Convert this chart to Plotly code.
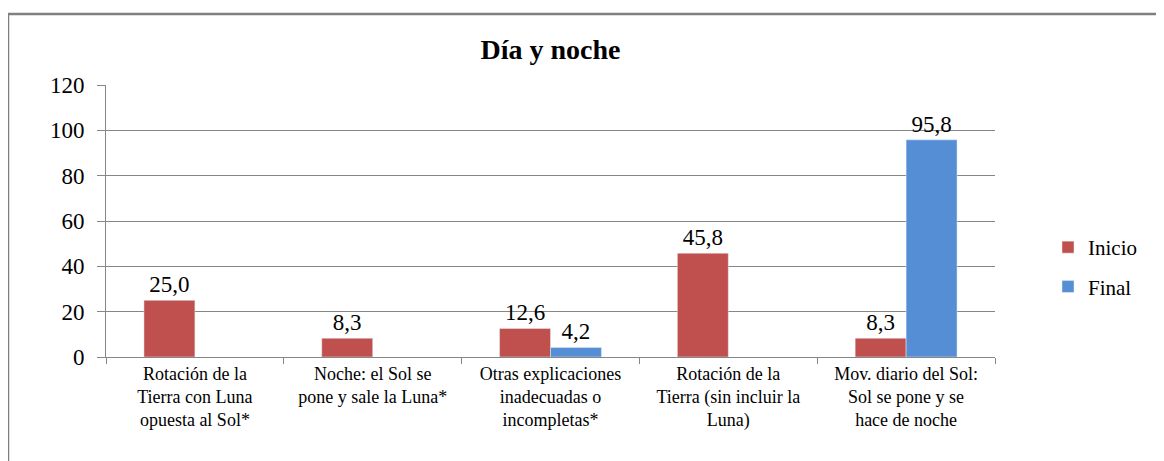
import plotly.graph_objects as go

categories = [
    "Rotación de la<br>Tierra con Luna<br>opuesta al Sol*",
    "Noche: el Sol se<br>pone y sale la Luna*",
    "Otras explicaciones<br>inadecuadas o<br>incompletas*",
    "Rotación de la<br>Tierra (sin incluir la<br>Luna)",
    "Mov. diario del Sol:<br>Sol se pone y se<br>hace de noche",
]
inicio = [25.0, 8.3, 12.6, 45.8, 8.3]
final = [None, None, 4.2, None, 95.8]

FONT = "Liberation Serif, Times New Roman, serif"

fig = go.Figure()
fig.add_trace(go.Bar(
    name="Inicio", x=categories, y=inicio, marker_color="#C0504D", legendgroup="a",
    texttemplate="%{y:.1f}", textposition="outside",
    textfont=dict(size=23, color="#000", family=FONT), cliponaxis=False,
))
fig.add_trace(go.Bar(
    name="Final", x=categories, y=final, marker_color="#558ED5", legendgroup="b",
    texttemplate="%{y:.1f}", textposition="outside",
    textfont=dict(size=23, color="#000", family=FONT), cliponaxis=False,
))

OFF = 8  # page body margin
W, H = 1164 - OFF, 461 - OFF
L, R, T, B = 106 - OFF, 1164 - 995, 85 - OFF, 461 - 357
pw = W - L - R
ph = H - T - B

def px(x):
    return (x - OFF - L) / pw

def py(y):
    return (H - B - (y - OFF)) / ph

fig.update_layout(
    width=W, height=H,
    margin=dict(l=L, r=R, t=T, b=B),
    paper_bgcolor="white", plot_bgcolor="white",
    barmode="group", bargap=0.427, bargroupgap=0,
    separators=",.",
    font=dict(family=FONT, color="#000"),
    title=dict(text="<b>Día y noche</b>", x=0.5, xref="paper", xanchor="center",
               y=1 - (49 - OFF) / H, yanchor="middle",
               font=dict(size=28, family=FONT, color="#000")),
    legend=dict(x=px(1048), y=py(267), xanchor="left", yanchor="middle",
                font=dict(size=21, family=FONT, color="#000"),
                tracegroupgap=9, itemwidth=30),
    xaxis=dict(showline=True, linecolor="#868686", linewidth=1,
               ticks="outside", tickson="boundaries", ticklen=6, tickcolor="#868686",
               tickfont=dict(size=18, family=FONT, color="#000"),
               tickangle=0),
    yaxis=dict(range=[0, 120], dtick=20, showline=True, linecolor="#868686", linewidth=1,
               ticks="outside", ticklen=8, tickcolor="#868686",
               ticklabelstandoff=8,
               showgrid=True, gridcolor="#868686", gridwidth=1,
               tickfont=dict(size=23, family=FONT, color="#000"),
               zeroline=False),
    shapes=[dict(type="rect", xref="paper", yref="paper",
                 x0=px(8), x1=px(1250), y0=py(14), y1=py(520),
                 line=dict(color="#7F7F7F", width=2.5), layer="below")],
)

fig.write_html("out.html")
